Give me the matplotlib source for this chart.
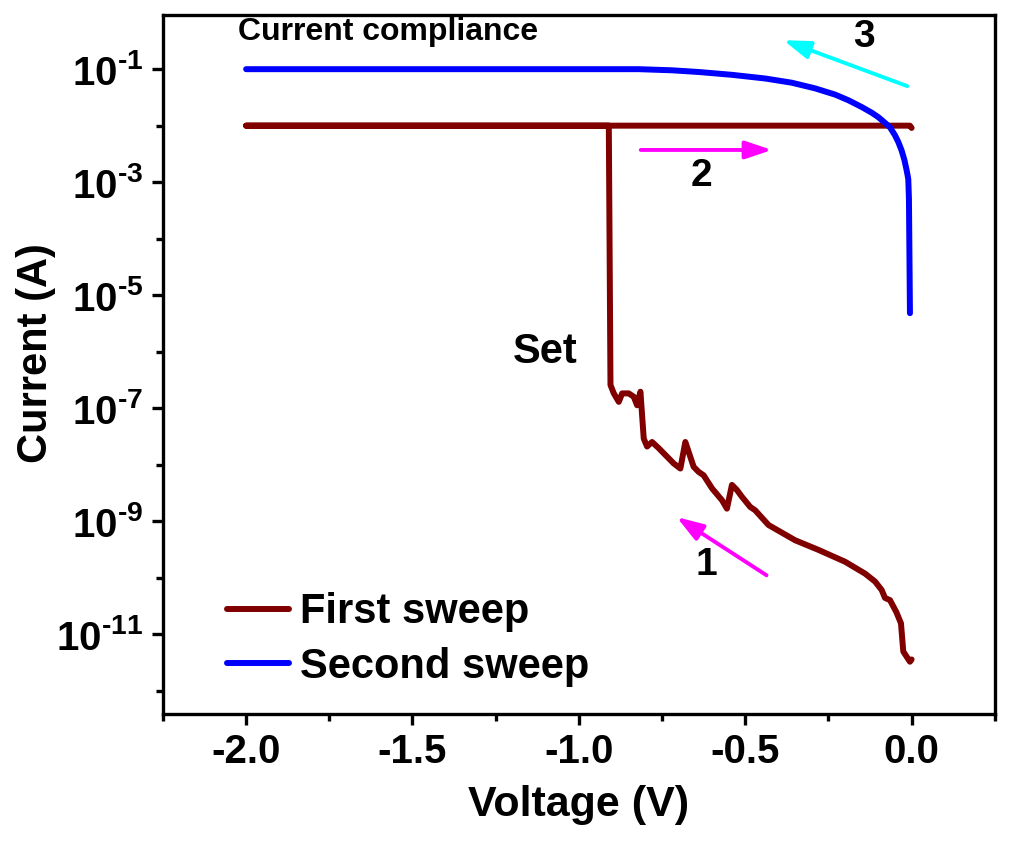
import numpy as np
import matplotlib.pyplot as plt
from matplotlib.ticker import FixedLocator, FuncFormatter

plt.rcParams['font.family'] = 'Liberation Sans'
plt.rcParams['font.weight'] = 'bold'
plt.rcParams['mathtext.fontset'] = 'custom'
plt.rcParams['mathtext.rm'] = 'Liberation Sans'
plt.rcParams['mathtext.bf'] = 'Liberation Sans:bold'

# first sweep: 0 -> set at about -0.91 V, then held at compliance to -2 V and back to 0
v1 = [0.0, -0.005, -0.025, -0.032, -0.046, -0.065, -0.080, -0.090, -0.110, -0.140,
      -0.200, -0.280, -0.350, -0.430, -0.470, -0.485, -0.510, -0.525, -0.540,
      -0.555, -0.570, -0.600, -0.625, -0.640, -0.655, -0.680, -0.695, -0.715,
      -0.740, -0.760, -0.780, -0.795, -0.805, -0.815, -0.825, -0.835, -0.850,
      -0.870, -0.880, -0.895, -0.905, -0.910, -2.0, -0.005, 0.0]
logi1 = [-11.45, -11.49, -11.31, -10.81, -10.61, -10.40, -10.36, -10.22, -10.07, -9.93,
         -9.72, -9.51, -9.34, -9.07, -8.81, -8.75, -8.57, -8.45, -8.36,
         -8.78, -8.63, -8.42, -8.19, -8.13, -8.04, -7.60, -8.07, -7.98,
         -7.83, -7.71, -7.60, -7.68, -7.54, -6.71, -6.95, -6.80, -6.74,
         -6.74, -6.89, -6.74, -6.59, -2.0, -2.0, -2.0, -2.04]

# second sweep: from -2 V at 0.1 A back to 0 V
v2 = [-2.0, -0.82, -0.72, -0.64, -0.54, -0.44, -0.36, -0.29, -0.23, -0.19,
      -0.15, -0.12, -0.10, -0.08, -0.065, -0.05, -0.04, -0.03, -0.022,
      -0.016, -0.012, -0.010, -0.008, -0.005]
logi2 = [-1.0, -1.0, -1.02, -1.05, -1.10, -1.165, -1.24, -1.34, -1.45, -1.55,
         -1.67, -1.77, -1.85, -1.95, -2.03, -2.17, -2.29, -2.44, -2.60,
         -2.76, -2.88, -2.95, -3.3, -5.32]

i1 = 10.0 ** np.array(logi1)
i2 = 10.0 ** np.array(logi2)

fig = plt.figure(figsize=(10.12, 8.43), dpi=100)
ax = fig.add_axes([0.161, 0.153, 0.822, 0.829])

ax.plot(v1, i1, color='#800000', lw=4.3, solid_capstyle='round',
        solid_joinstyle='round', label='First sweep')
ax.plot(v2, i2, color='#0000ff', lw=4.3, solid_capstyle='round',
        solid_joinstyle='round', label='Second sweep')

ax.set_yscale('log')
ax.set_xlim(-2.25, 0.25)
ax.set_ylim(10 ** -12.416, 10 ** -0.044)

ax.xaxis.set_major_locator(FixedLocator([-2.0, -1.5, -1.0, -0.5, 0.0]))
ax.xaxis.set_minor_locator(FixedLocator([-2.25, -1.75, -1.25, -0.75, -0.25, 0.25]))
ax.xaxis.set_major_formatter(FuncFormatter(lambda v, p: '%.1f' % v))

ax.yaxis.set_major_locator(FixedLocator([10.0 ** e for e in (-11, -9, -7, -5, -3, -1)]))
ax.yaxis.set_minor_locator(FixedLocator([10.0 ** e for e in (-12, -10, -8, -6, -4, -2)]))
ax.yaxis.set_major_formatter(FuncFormatter(
    lambda v, p: r'$\mathbf{10}^{\text{-%d}}$' % -round(np.log10(v))))
ax.yaxis.set_minor_formatter(FuncFormatter(lambda v, p: ''))

for s in ax.spines.values():
    s.set_linewidth(2.4)
ax.tick_params(which='major', direction='out', length=8, width=2.4,
               labelsize=29, pad=6)
ax.tick_params(which='minor', direction='out', length=5, width=2.4)
ax.tick_params(top=False, right=False, which='both')

ax.set_xlabel('Voltage (V)', fontsize=31, fontweight='bold', labelpad=10)
ax.set_ylabel('Current (A)', fontsize=30, fontweight='bold')
ax.yaxis.set_label_coords(-0.128, 0.516)

ax.legend(loc='lower left', bbox_to_anchor=(0.077, 0.039), frameon=False,
          borderpad=0, borderaxespad=0, fontsize=30, handlelength=1.5,
          handletextpad=0.25, labelspacing=0.35)

# sweep direction arrows
astyle = '-|>,head_length=0.8,head_width=0.27'
ax.annotate('', xy=(-0.706, 10 ** -8.93), xytext=(-0.436, 10 ** -9.96),
            arrowprops=dict(arrowstyle=astyle, color='#ff00ff', lw=2.8,
                            mutation_scale=20, shrinkA=0, shrinkB=0))
ax.annotate('', xy=(-0.42, 10 ** -2.43), xytext=(-0.814, 10 ** -2.43),
            arrowprops=dict(arrowstyle=astyle, color='#ff00ff', lw=2.8,
                            mutation_scale=20, shrinkA=0, shrinkB=0))
ax.annotate('', xy=(-0.385, 10 ** -0.487), xytext=(-0.013, 10 ** -1.30),
            arrowprops=dict(arrowstyle=astyle, color='#00ffff', lw=2.8,
                            mutation_scale=20, shrinkA=0, shrinkB=0))

ax.text(-0.616, 10 ** -9.78, '1', fontsize=28, fontweight='bold', ha='center', va='center')
ax.text(-0.631, 10 ** -2.89, '2', fontsize=28, fontweight='bold', ha='center', va='center')
ax.text(-0.142, 10 ** -0.43, '3', fontsize=28, fontweight='bold', ha='center', va='center')
ax.text(-1.102, 10 ** -6.01, 'Set', fontsize=30, fontweight='bold', ha='center', va='center')
ax.text(-1.574, 10 ** -0.345, 'Current compliance', fontsize=23, fontweight='bold',
        ha='center', va='center')

fig.savefig('out.png', dpi=100)
